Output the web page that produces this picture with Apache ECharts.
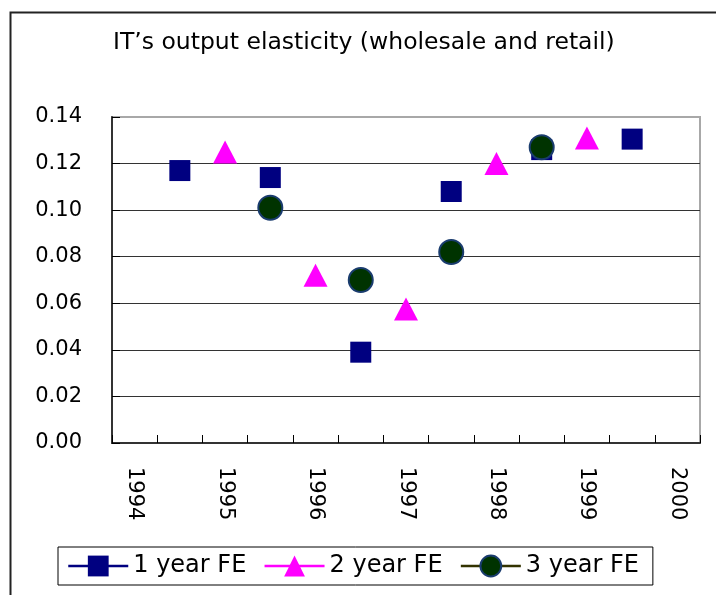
<!DOCTYPE html>
<html>
<head>
<meta charset="utf-8">
<script src="https://cdn.jsdelivr.net/npm/echarts@6/dist/echarts.min.js"></script>
<style>html,body{margin:0;padding:0;background:#fff;}#c{width:716px;height:595px;}</style>
</head>
<body>
<div id="c"></div>
<script>
var categories = ['1994','1994.5','1995','1995.5','1996','1996.5','1997','1997.5','1998','1998.5','1999','1999.5','2000'];
var oneYearFE   = [null, 0.117, null, 0.114, null, 0.039, null, 0.108, null, 0.126, null, 0.1305, null];
var twoYearFE   = [null, null, 0.125, null, 0.072, null, 0.0575, null, 0.120, null, 0.131, null, null];
var threeYearFE = [null, null, null, 0.101, null, 0.070, null, 0.082, null, 0.127, null, null, null];
var yTicks = [0, 0.02, 0.04, 0.06, 0.08, 0.10, 0.12, 0.14];

var FONT = '"DejaVu Sans", "Noto Sans", sans-serif';
var chart = echarts.init(document.getElementById('c'), null, {renderer: 'canvas'});
chart.setOption({
  backgroundColor: '#ffffff',
  animation: false,
  title: {
    text: "IT\u2019s output elasticity (wholesale and retail)",
    left: 108, top: 26,
    textStyle: {fontFamily: FONT, fontSize: 23.5, fontWeight: 'normal', color: '#000'}
  },
  graphic: [{
    type: 'rect', left: 8, top: 10, silent: true,
    shape: {width: 720, height: 600},
    style: {fill: 'none', stroke: '#222', lineWidth: 2}
  }],
  grid: {left: 112, top: 117, right: 16, bottom: 152, show: true, borderColor: '#a8a8a8', borderWidth: 2},
  legend: {
    left: 58, top: 547,
    padding: [7, 14, 7, 9],
    itemGap: 17,
    itemWidth: 60, itemHeight: 26,
    borderColor: '#000', borderWidth: 1,
    lineStyle: {width: 2.5},
    textStyle: {fontFamily: FONT, fontSize: 24, color: '#000'},
    data: ['1 year FE', '2 year FE', '3 year FE']
  },
  xAxis: {
    type: 'category',
    data: categories,
    boundaryGap: true,
    axisLine: {lineStyle: {color: '#333', width: 2}},
    axisTick: {show: true, inside: true, length: 8, interval: 0, lineStyle: {color: '#000'}},
    axisLabel: {interval: 1, rotate: -90, margin: 24, fontFamily: FONT, fontSize: 21, color: '#000'},
    splitLine: {show: false}
  },
  yAxis: {
    type: 'value',
    min: yTicks[0], max: yTicks[yTicks.length - 1], interval: 0.02,
    axisLine: {show: true, lineStyle: {color: '#333', width: 2}},
    axisTick: {show: true, inside: true, length: 8, lineStyle: {color: '#000'}},
    axisLabel: {margin: 30, fontFamily: FONT, fontSize: 21, color: '#000',
      formatter: function (v) { return v.toFixed(2); }},
    splitLine: {show: true, lineStyle: {color: ['#333','#333','#333','#333','#333','#333','#333','#a8a8a8'], width: 1}}
  },
  series: [
    {
      name: '1 year FE', type: 'line', data: oneYearFE,
      connectNulls: false, showAllSymbol: true,
      symbol: 'rect', symbolSize: 21,
      itemStyle: {color: '#000080'},
      lineStyle: {color: '#000080', width: 2.5},
      z: 3
    },
    {
      name: '2 year FE', type: 'line', data: twoYearFE,
      connectNulls: false, showAllSymbol: true,
      symbol: 'triangle', symbolSize: [24, 23],
      itemStyle: {color: '#ff00ff'},
      lineStyle: {color: '#ff00ff', width: 2.5},
      z: 4
    },
    {
      name: '3 year FE', type: 'line', data: threeYearFE,
      connectNulls: false, showAllSymbol: true,
      symbol: 'circle', symbolSize: 24,
      itemStyle: {color: '#003300', borderColor: '#1a3c6e', borderWidth: 2},
      lineStyle: {color: '#333300', width: 2.5},
      z: 5
    }
  ]
});
</script>
</body>
</html>
